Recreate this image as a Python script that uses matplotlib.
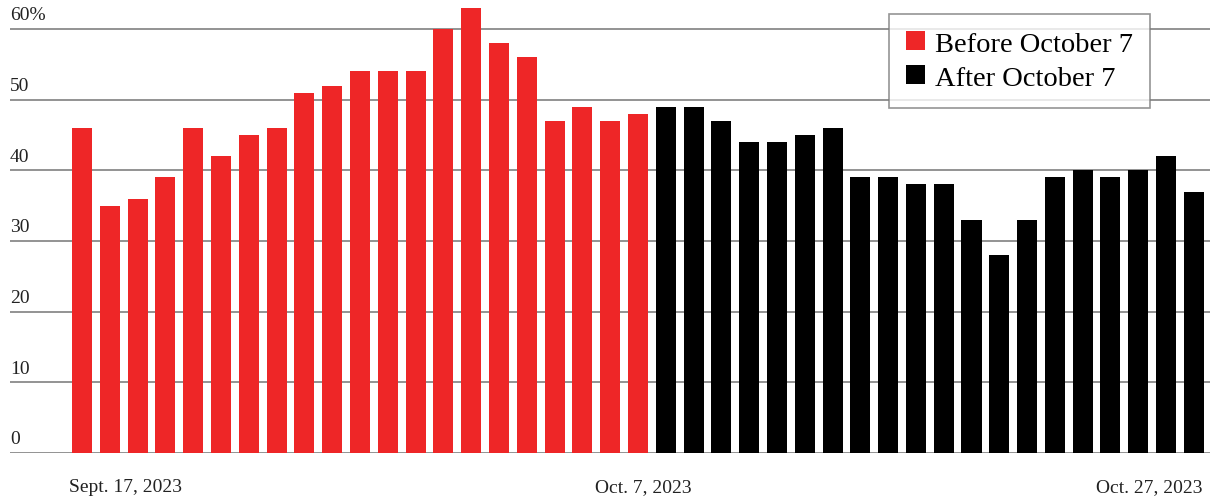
import matplotlib
matplotlib.use("Agg")
import matplotlib.pyplot as plt
from matplotlib.patches import Patch
from matplotlib.transforms import blended_transform_factory
import pandas as pd

# ---------------------------------------------------------------------------
# Data (daily share, %)
# ---------------------------------------------------------------------------

DATES = pd.date_range("2023-09-17", "2023-10-27", freq="D")

BEFORE = [46, 35, 36, 39, 46, 42, 45, 46, 51, 52, 54, 54, 54, 60, 63, 58, 56,
          47, 49, 47, 48]
AFTER = [49, 49, 47, 44, 44, 45, 46, 39, 39, 38, 38, 33, 28, 33, 39, 40, 39,
         40, 42, 37]

Y_TICKS = [0, 10, 20, 30, 40, 50, 60]
Y_LABELS = ["0", "10", "20", "30", "40", "50", "60%"]

X_TICK_DATES = ["2023-09-17", "2023-10-07", "2023-10-27"]
X_TICK_LABELS = ["Sept. 17, 2023", "Oct. 7, 2023", "Oct. 27, 2023"]

LEGEND_LABELS = ["Before October 7", "After October 7"]
COLORS = ["#ee2627", "#000000"]

# ---------------------------------------------------------------------------
# Plot
# ---------------------------------------------------------------------------

plt.rcParams["font.family"] = ["Liberation Serif", "DejaVu Serif"]

fig = plt.figure(figsize=(12.1, 5.02), dpi=100)
ax = fig.add_axes([10 / 1210, 48 / 502, 1200 / 1210, 454 / 502])

x_before = list(range(len(BEFORE)))
x_after = list(range(len(BEFORE), len(BEFORE) + len(AFTER)))
ax.bar(x_before, BEFORE, width=0.72, color=COLORS[0], zorder=3)
ax.bar(x_after, AFTER, width=0.72, color=COLORS[1], zorder=3)

ax.set_xlim(-2.59, 40.58)
ax.set_ylim(0, 64.25)

for v in Y_TICKS:
    ax.axhline(v, color="#8a8a8a", linewidth=1.3, zorder=1)

trans = blended_transform_factory(ax.transAxes, ax.transData)
for v, lab in zip(Y_TICKS, Y_LABELS):
    ax.annotate(lab, xy=(0, v), xycoords=trans, xytext=(0, 4),
                textcoords="offset points", ha="left", va="bottom",
                fontsize=14, color="#222222")

date_idx = {d.strftime("%Y-%m-%d"): i for i, d in enumerate(DATES)}
aligns = ["left", "center", "right"]
shifts = [-0.45, 0.2, 0.30]
for d, lab, ha, s in zip(X_TICK_DATES, X_TICK_LABELS, aligns, shifts):
    ax.annotate(lab, xy=(date_idx[d] + s, 0), xycoords="data",
                xytext=(0, -18), textcoords="offset points",
                ha=ha, va="top", fontsize=14, color="#222222",
                annotation_clip=False)

for spine in ax.spines.values():
    spine.set_visible(False)
ax.set_xticks([])
ax.set_yticks([])

handles = [Patch(facecolor=c, edgecolor="none") for c in COLORS]
leg = fig.legend(handles, LEGEND_LABELS, loc="upper right",
                 bbox_to_anchor=(1150 / 1210, 1 - 15 / 502),
                 frameon=True, fancybox=False, fontsize=20.5,
                 handlelength=0.65, handleheight=0.65, handletextpad=0.35,
                 labelspacing=0.3, borderpad=0.6, borderaxespad=0)
leg.get_frame().set_edgecolor("#7a7a7a")
leg.get_frame().set_linewidth(1.2)

fig.savefig("out.png", dpi=100)
